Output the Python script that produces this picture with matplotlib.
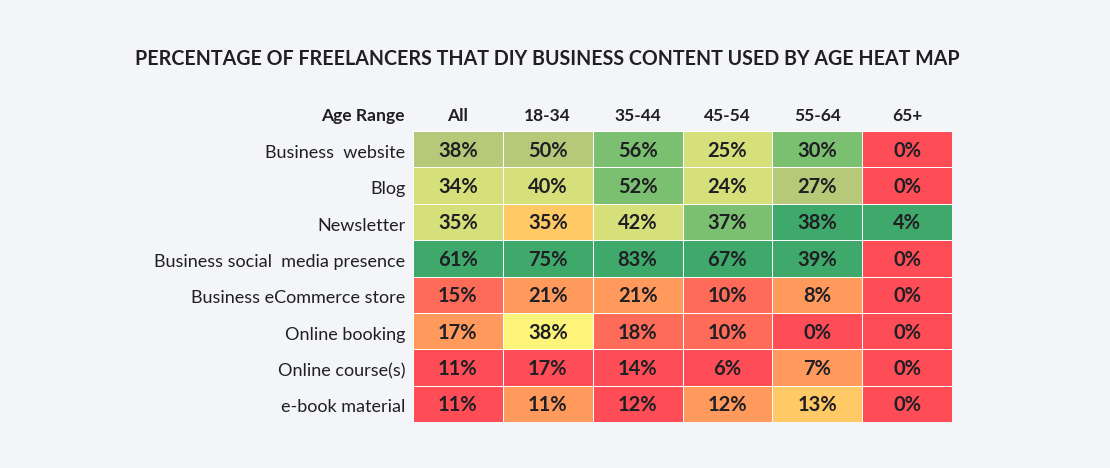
import matplotlib
matplotlib.use("Agg")
import matplotlib.pyplot as plt
from matplotlib.colors import ListedColormap, BoundaryNorm
import numpy as np

title = "PERCENTAGE OF FREELANCERS THAT DIY BUSINESS CONTENT USED BY AGE HEAT MAP"
age_ranges = ["All", "18-34", "35-44", "45-54", "55-64", "65+"]
content_types = ["Business  website", "Blog", "Newsletter",
                 "Business social  media presence", "Business eCommerce store",
                 "Online booking", "Online course(s)", "e-book material"]
values = [
    [38, 50, 56, 25, 30, 0],
    [34, 40, 52, 24, 27, 0],
    [35, 35, 42, 37, 38, 4],
    [61, 75, 83, 67, 39, 0],
    [15, 21, 21, 10, 8, 0],
    [17, 38, 18, 10, 0, 0],
    [11, 17, 14, 6, 7, 0],
    [11, 11, 12, 12, 13, 0],
]
# colour tier of each cell as shown in the source (0 = lowest/red ... 8 = highest/green)
tiers = [
    [6, 6, 7, 5, 7, 0],
    [5, 5, 7, 5, 6, 0],
    [5, 3, 5, 7, 8, 8],
    [8, 8, 8, 8, 8, 0],
    [1, 2, 2, 1, 2, 0],
    [2, 4, 1, 1, 0, 0],
    [0, 0, 0, 0, 2, 0],
    [0, 2, 0, 2, 3, 0],
]
tier_colors = ["#ff4d57", "#ff6b59", "#ff9a5c", "#ffc966", "#fff47a",
               "#d5e07a", "#b5c978", "#7bbf70", "#3fa96b"]

FONT = ["Lato", "DejaVu Sans"]
plt.rcParams['font.family'] = FONT
BG = "#f4f5f8"
TXT = "#1f1f24"

W, H = 1110, 468
fig = plt.figure(figsize=(W / 100, H / 100), dpi=100, facecolor=BG)
left, right, top, bottom = 413, 952, 131, 422
ax = fig.add_axes([left / W, 1 - bottom / H, (right - left) / W, (bottom - top) / H])
ax.set_facecolor(BG)

V = np.array(values)
T = np.array(tiers)
cmap = ListedColormap(tier_colors)
norm = BoundaryNorm(np.arange(-0.5, len(tier_colors) + 0.5, 1), cmap.N)
ax.pcolormesh(np.arange(len(age_ranges) + 1), np.arange(len(content_types) + 1), T,
              cmap=cmap, norm=norm, edgecolors="white", linewidth=0.7)
ax.set_xlim(0, len(age_ranges))
ax.set_ylim(len(content_types), 0)

for i in range(V.shape[0]):
    for j in range(V.shape[1]):
        ax.text(j + 0.5, i + 0.54, f"{V[i, j]}%", ha="center", va="center",
                fontsize=14.5, fontweight="bold", color=TXT)

ax.set_xticks(np.arange(len(age_ranges)) + 0.5)
ax.set_xticklabels(age_ranges, fontsize=12.5, fontweight="bold", color=TXT)
ax.xaxis.tick_top()
ax.set_yticks(np.arange(len(content_types)) + 0.56)
ax.set_yticklabels(content_types, fontsize=13, color=TXT)
ax.tick_params(length=0, pad=5.5)
ax.tick_params(axis="x", pad=5)
for s in ax.spines.values():
    s.set_visible(False)

fig.text(405 / W, 1 - 116 / H, "Age Range", ha="right", va="center",
         fontsize=12.6, fontweight="bold", color=TXT)
fig.text(547 / W, 1 - 59 / H, title, ha="center", va="center",
         fontsize=14.1, fontweight="bold", color=TXT)

fig.savefig("out.png", dpi=100, facecolor=BG)
